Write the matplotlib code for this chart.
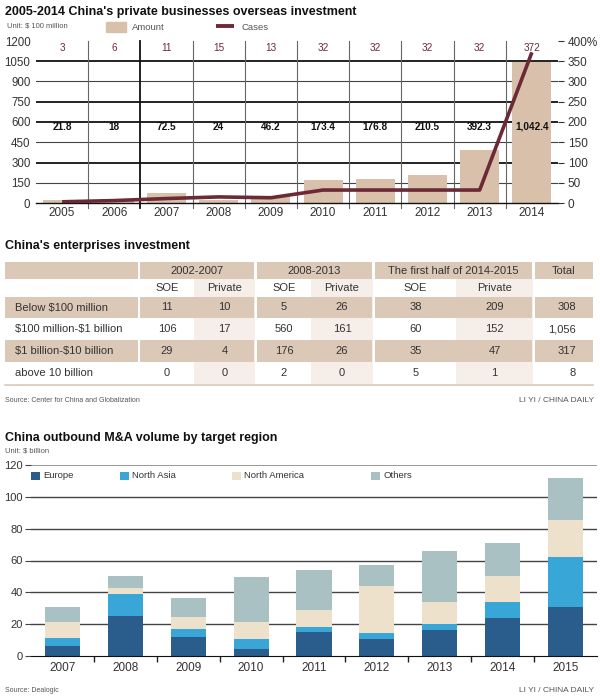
import numpy as np
import matplotlib.pyplot as plt
from matplotlib.patches import Rectangle

plt.rcParams['font.family'] = ['Liberation Sans', 'DejaVu Sans']
plt.rcParams['text.parse_math'] = False

# ---- data: private businesses overseas investment ----
years_top = ['2005', '2006', '2007', '2008', '2009', '2010', '2011', '2012', '2013', '2014']
amount = [21.8, 18, 72.5, 24, 46.2, 173.4, 176.8, 210.5, 392.3, 1042.4]
amount_labels = ['21.8', '18', '72.5', '24', '46.2', '173.4', '176.8', '210.5', '392.3', '1,042.4']
cases = [3, 6, 11, 15, 13, 32, 32, 32, 32, 372]

# ---- data: enterprises investment table ----
periods = ['2002-2007', '2008-2013', 'The first half of 2014-2015']
size_rows = ['Below $100 million', '$100 million-$1 billion', '$1 billion-$10 billion', 'above 10 billion']
soe_0207 = [11, 106, 29, 0]
private_0207 = [10, 17, 4, 0]
soe_0813 = [5, 560, 176, 2]
private_0813 = [26, 161, 26, 0]
soe_1415 = [38, 60, 35, 5]
private_1415 = [209, 152, 47, 1]
totals = ['308', '1,056', '317', '8']

# ---- data: outbound M&A by target region ($ billion) ----
years_ma = ['2007', '2008', '2009', '2010', '2011', '2012', '2013', '2014', '2015']
europe = [6, 25.2, 11.7, 4.4, 15.1, 10.5, 16.4, 23.9, 31]
north_asia = [5, 13.8, 5.1, 6.5, 3.1, 3.8, 3.7, 9.9, 31.3]
north_america = [10.2, 3.6, 7.9, 10.5, 10.5, 29.7, 13.7, 16.7, 23.2]
others = [9.4, 7.5, 11.6, 28.3, 25.2, 13, 32.2, 20.8, 26.2]

BEIGE = '#d8c0aa'
MAROON = '#6b2a36'
TXT = '#333333'
GREY = '#555555'

fig = plt.figure(figsize=(6, 7), dpi=100)

# background axes in pixel coordinates for titles and the table
bg = fig.add_axes([0, 0, 1, 1], zorder=0)
bg.set_xlim(0, 600)
bg.set_ylim(700, 0)
bg.axis('off')

bg.text(5, 12, "2005-2014 China's private businesses overseas investment",
        fontsize=9, fontweight='bold', va='center', color='#111')
bg.text(7, 26, 'Unit: $ 100 million', fontsize=5.5, va='center', color=GREY)
bg.add_patch(Rectangle((106, 22), 20, 10, color=BEIGE))
bg.text(132, 27, 'Amount', fontsize=6.8, va='center', color=GREY)
bg.plot([216, 234], [26, 26], color=MAROON, lw=2.8, solid_capstyle='butt')
bg.text(241, 27, 'Cases', fontsize=6.8, va='center', color=GREY)

# ---- top chart ----
ax = fig.add_axes([36 / 600, 1 - 203 / 700, 522 / 600, 162 / 700], zorder=2)
ax.patch.set_alpha(0)
x = np.arange(len(years_top))
ax.set_xlim(-0.5, len(years_top) - 0.5)
ax.set_ylim(0, 1200)
for v in range(150, 1200, 150):
    heavy = v in (1050, 750, 600, 300)
    ax.axhline(v, color='#111' if heavy else '#444', lw=1.3 if heavy else 0.8, zorder=1)
for b in x[:-1] + 0.5:
    ax.axvline(b, ymin=-0.03, color='#111' if b == 1.5 else '#666',
               lw=1.3 if b == 1.5 else 0.8, zorder=1, clip_on=False)
ax.bar(x, amount, width=0.75, color=BEIGE, zorder=2)
for xi, lab in zip(x, amount_labels):
    ax.text(xi, 565, lab, ha='center', va='center', fontsize=7.2, fontweight='bold', color='#111', zorder=5)
for xi, c in zip(x, cases):
    ax.text(xi, 1150, str(c), ha='center', va='center', fontsize=7.2, color=MAROON, zorder=5)
ax.set_xticks(x)
ax.set_xticklabels(years_top, fontsize=8.5, color=TXT)
ax.set_yticks(range(0, 1201, 150))
ax.set_yticklabels([str(v) for v in range(0, 1201, 150)], fontsize=8.3, color=TXT)
ax.tick_params(axis='x', length=0, pad=3)
ax.tick_params(axis='y', length=0, pad=4)
for s in ['top', 'right', 'left']:
    ax.spines[s].set_visible(False)
ax.spines['bottom'].set_color('#111')
ax.spines['bottom'].set_linewidth(1)

ax2 = ax.twinx()
ax2.set_ylim(0, 400)
ax2.plot(x, cases, color=MAROON, lw=2.6, zorder=4, solid_capstyle='butt')
ax2.set_yticks(range(0, 401, 50))
ax2.set_yticklabels([str(v) for v in range(0, 400, 50)] + ['400%'], fontsize=8.5, color=TXT)
ax2.tick_params(axis='y', length=4, width=0.8, color='#333', pad=3)
for s in ax2.spines.values():
    s.set_visible(False)

# ---- table ----
bg.text(5, 246, "China's enterprises investment", fontsize=9, fontweight='bold',
        va='center', color='#111')
TBEIGE = '#dcc8b6'
TINT = '#f6eee8'
col_edges = [(5, 138), (140, 194), (195, 254), (257, 311), (312, 372), (375, 456), (457, 532), (535, 593)]
group_edges = [(5, 138), (140, 254), (257, 372), (375, 532), (535, 593)]
row_edges = [(297, 318), (318, 340), (340, 362), (362, 384)]

# header row 1
for (a, b) in group_edges:
    bg.add_patch(Rectangle((a, 262), b - a, 17, color=TBEIGE, lw=0))
for (a, b), lab in zip(group_edges[1:4], periods):
    bg.text((a + b) / 2, 270.5, lab, ha='center', va='center', fontsize=8, color=TXT)
bg.text(564, 270.5, 'Total', ha='center', va='center', fontsize=8, color=TXT)

# private tint columns (header row 2 and white rows)
for ci in (2, 4, 6):
    a, b = col_edges[ci]
    bg.add_patch(Rectangle((a - 1, 279), b - a + 2, 105, color=TINT, lw=0))
for ci in range(1, 7):
    a, b = col_edges[ci]
    bg.text((a + b) / 2, 288, 'SOE' if ci % 2 == 1 else 'Private', ha='center', va='center',
            fontsize=8, color=TXT)

columns = [soe_0207, private_0207, soe_0813, private_0813, soe_1415, private_1415]
for ri, (y0, y1) in enumerate(row_edges):
    yc = (y0 + y1) / 2
    if ri % 2 == 0:
        for (a, b) in group_edges:
            bg.add_patch(Rectangle((a, y0), b - a, y1 - y0, color=TBEIGE, lw=0))
    bg.text(15, yc, size_rows[ri], va='center', fontsize=8, color=TXT)
    for ci, col in enumerate(columns):
        a, b = col_edges[ci + 1]
        bg.text((a + b) / 2, yc, str(col[ri]), ha='center', va='center', fontsize=8, color=TXT)
    bg.text(576, yc, totals[ri], ha='right', va='center', fontsize=8, color=TXT)
bg.plot([5, 593], [384.5, 384.5], color=TBEIGE, lw=1.2)

bg.text(5, 401, 'Source: Center for China and Globalization', fontsize=5, va='center', color=GREY)
bg.text(594, 401, 'LI YI / CHINA DAILY', fontsize=6, va='center', ha='right', color=GREY)

# ---- bottom chart ----
bg.text(5, 438, 'China outbound M&A volume by target region', fontsize=9,
        fontweight='bold', va='center', color='#111')
bg.text(5, 451, 'Unit: $ billion', fontsize=5.5, va='center', color=GREY)

colors = ['#2a5d8c', '#38a6d6', '#ede1cc', '#a9c1c3']
names = ['Europe', 'North Asia', 'North America', 'Others']
leg_x = [31, 120, 232, 371]
for lx, c, n in zip(leg_x, colors, names):
    bg.add_patch(Rectangle((lx, 472), 9, 7.5, color=c, lw=0))
    bg.text(lx + 12, 476, n, va='center', fontsize=6.8, color=TXT)

bx = fig.add_axes([31 / 600, 1 - 656 / 700, 566 / 600, 191 / 700], zorder=2)
bx.patch.set_alpha(0)
xm = np.arange(len(years_ma))
bx.set_xlim(-0.5, len(years_ma) - 0.5)
bx.set_ylim(0, 120)
for v in range(20, 121, 20):
    bx.axhline(v, color='#999' if v == 120 else '#444', lw=1.4 if v == 120 else 1, zorder=1)
bottom = np.zeros(len(years_ma))
for vals, c in zip([europe, north_asia, north_america, others], colors):
    bx.bar(xm, vals, bottom=bottom, width=0.56, color=c, zorder=2)
    bottom += np.array(vals)
bx.set_yticks(range(0, 121, 20))
bx.set_yticklabels([str(v) for v in range(0, 121, 20)], fontsize=8, color=TXT)
bx.tick_params(axis='y', length=4, width=0.8, color='#444', pad=2)
bx.set_xticks(xm[:-1] + 0.5, minor=True)
bx.set_xticks(xm)
bx.set_xticklabels(years_ma, fontsize=8.5, color=TXT)
bx.tick_params(axis='x', which='major', length=0, pad=4)
bx.tick_params(axis='x', which='minor', length=4, width=1, color='#222')
for s in ['top', 'right', 'left']:
    bx.spines[s].set_visible(False)
bx.spines['bottom'].set_color('#111')

bg.text(5, 690, 'Source: Dealogic', fontsize=5, va='center', color=GREY)
bg.text(594, 691, 'LI YI / CHINA DAILY', fontsize=6, va='center', ha='right', color=GREY)

fig.savefig('out.png', dpi=100)
